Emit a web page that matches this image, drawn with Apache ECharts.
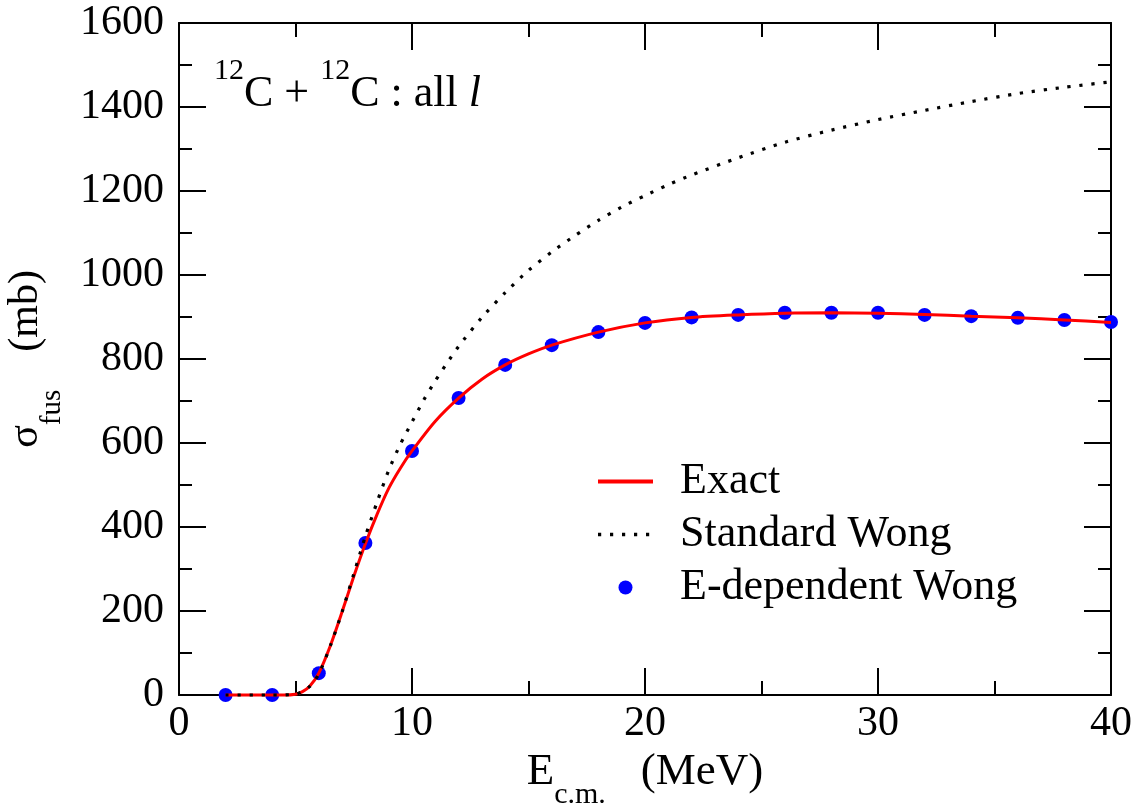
<!DOCTYPE html>
<html>
<head>
<meta charset="utf-8">
<script src="https://cdn.jsdelivr.net/npm/echarts@6/dist/echarts.min.js"></script>
<style>
  html, body { margin: 0; padding: 0; background: #fff; }
  #chart { width: 1137px; height: 803px; }
</style>
</head>
<body>
<div id="chart"></div>
<script>
// Exact (red solid line)
const exactE = [2, 3, 4, 4.5, 5, 5.3, 5.6, 6, 6.5, 7, 7.5, 8, 8.5, 9, 9.5, 10, 11, 12, 13, 14, 15, 16, 18, 20, 22, 24, 26, 28, 30, 32, 34, 36, 38, 40]
const exactSigma = [0, 0, 0, 0, 2, 8, 20, 52, 118, 198, 282, 360, 430, 492, 540, 581, 652, 707, 752, 786, 812, 833, 864, 886, 899, 905, 909, 910, 909, 906, 902, 898, 893, 887]
// Standard Wong (black dotted line)
const wongE = [2, 4, 5, 5.6, 6, 6.5, 7, 7.5, 8, 8.5, 9, 9.5, 10, 10.5, 11, 11.5, 12, 13, 14, 15, 16, 17, 18, 19, 20, 21, 22, 24, 26, 28, 30, 32, 34, 36, 38, 40]
const wongSigma = [0, 0, 2, 20, 50, 118, 198, 288, 378, 459, 535, 597, 650, 702, 748, 790, 830, 899, 958, 1011, 1055, 1094, 1130, 1162, 1189, 1215, 1238, 1279, 1316, 1345, 1370, 1392, 1413, 1432, 1447, 1460]
// E-dependent Wong (blue dots)
const edepE = [2, 4, 6, 8, 10, 12, 14, 16, 18, 20, 22, 24, 26, 28, 30, 32, 34, 36, 38, 40]
const edepSigma = [0, 0, 52, 362, 581, 707, 786, 833, 864, 886, 899, 905, 910, 910, 910, 905, 902, 898, 893, 888]

const serif = 'Liberation Serif'
const pair = (xs, ys) => xs.map((x, i) => [x, ys[i]])

const chart = echarts.init(document.getElementById('chart'))

const tickStyle = { color: '#000', width: 2 }
function xAx(pos, labels) {
  return {
    type: 'value', position: pos, min: 0, max: 40, interval: 10,
    axisLine: { onZero: false, lineStyle: tickStyle },
    axisTick: { inside: true, length: 27, lineStyle: tickStyle },
    minorTick: { show: true, splitNumber: 2, length: 14, lineStyle: tickStyle },
    splitLine: { show: false },
    axisLabel: { show: labels, color: '#000', fontFamily: serif, fontSize: 42, margin: 8, formatter: v => String(v) }
  }
}
function yAx(pos, labels) {
  return {
    type: 'value', position: pos, min: 0, max: 1600, interval: 200,
    axisLine: { onZero: false, lineStyle: tickStyle },
    axisTick: { inside: true, length: 27, lineStyle: tickStyle },
    minorTick: { show: true, splitNumber: 2, length: 13, lineStyle: tickStyle },
    splitLine: { show: false },
    axisLabel: { show: labels, color: '#000', fontFamily: serif, fontSize: 42, margin: 15, formatter: v => String(v) }
  }
}

const xMain = xAx('bottom', true)
xMain.name = '{m|E}{s|c.m.}{p|(MeV)}'
xMain.nameLocation = 'middle'
xMain.nameGap = 52
xMain.nameTextStyle = {
  rich: {
    m: { fontFamily: serif, fontSize: 45, color: '#000', verticalAlign: 'top', lineHeight: 45 },
    s: { fontFamily: serif, fontSize: 30, color: '#000', verticalAlign: 'bottom', lineHeight: 60 },
    p: { fontFamily: serif, fontSize: 45, color: '#000', verticalAlign: 'top', lineHeight: 45, padding: [0, 0, 0, 35] }
  }
}

const yMain = yAx('left', true)
yMain.name = '{m|σ}{s|fus}{p|(mb)}'
yMain.nameLocation = 'middle'
yMain.nameRotate = 90
yMain.nameGap = 112
yMain.nameTextStyle = {
  rich: {
    m: { fontFamily: serif, fontSize: 42, color: '#000', verticalAlign: 'top', lineHeight: 42 },
    s: { fontFamily: serif, fontSize: 29, color: '#000', verticalAlign: 'bottom', lineHeight: 62 },
    p: { fontFamily: serif, fontSize: 42, color: '#000', verticalAlign: 'top', lineHeight: 42, padding: [0, 0, 0, 38] }
  }
}

const hideSymbol = { opacity: 0 }

chart.setOption({
  backgroundColor: '#fff',
  animation: false,
  grid: { left: 179, right: 26, top: 23, bottom: 108, outerBoundsMode: 'none', containLabel: false },
  xAxis: [xMain, xAx('top', false)],
  yAxis: [yMain, yAx('right', false)],
  legend: {
    orient: 'vertical', left: 596, top: 459, padding: 0,
    itemWidth: 55, itemHeight: 14, itemGap: 8,
    textStyle: { fontFamily: serif, fontSize: 44, color: '#000', lineHeight: 45, padding: [0, 0, 0, 22] },
    data: [
      { name: 'Exact', itemStyle: hideSymbol, lineStyle: { width: 4 } },
      { name: 'Standard Wong', itemStyle: hideSymbol, lineStyle: { width: 3.5 } },
      'E-dependent Wong'
    ]
  },
  graphic: [{
    type: 'text', left: 214, top: 56,
    style: {
      text: '{sup|12}{m|C + }{sup|12}{m|C : all }{it|l}',
      rich: {
        sup: { fontFamily: serif, fontSize: 30, fill: '#000', verticalAlign: 'top' },
        m: { fontFamily: serif, fontSize: 44, fill: '#000', verticalAlign: 'bottom', lineHeight: 60 },
        it: { fontFamily: serif, fontSize: 44, fontStyle: 'italic', fill: '#000', verticalAlign: 'bottom', lineHeight: 60 }
      }
    }
  }],
  series: [
    {
      name: 'Exact', type: 'line', data: pair(exactE, exactSigma),
      smooth: 0.25, symbol: 'none', clip: false,
      lineStyle: { color: '#ff0000', width: 3 }, itemStyle: { color: '#ff0000' }
    },
    {
      name: 'Standard Wong', type: 'line', data: pair(wongE, wongSigma),
      smooth: 0.25, symbol: 'none', clip: false,
      lineStyle: { color: '#000', width: 3.2, type: [3.2, 8.8] }, itemStyle: { color: '#000' }
    },
    {
      name: 'E-dependent Wong', type: 'scatter', data: pair(edepE, edepSigma),
      symbol: 'circle', symbolSize: 14, clip: false,
      itemStyle: { color: '#0000ff', opacity: 1 }
    }
  ]
})
</script>
</body>
</html>
